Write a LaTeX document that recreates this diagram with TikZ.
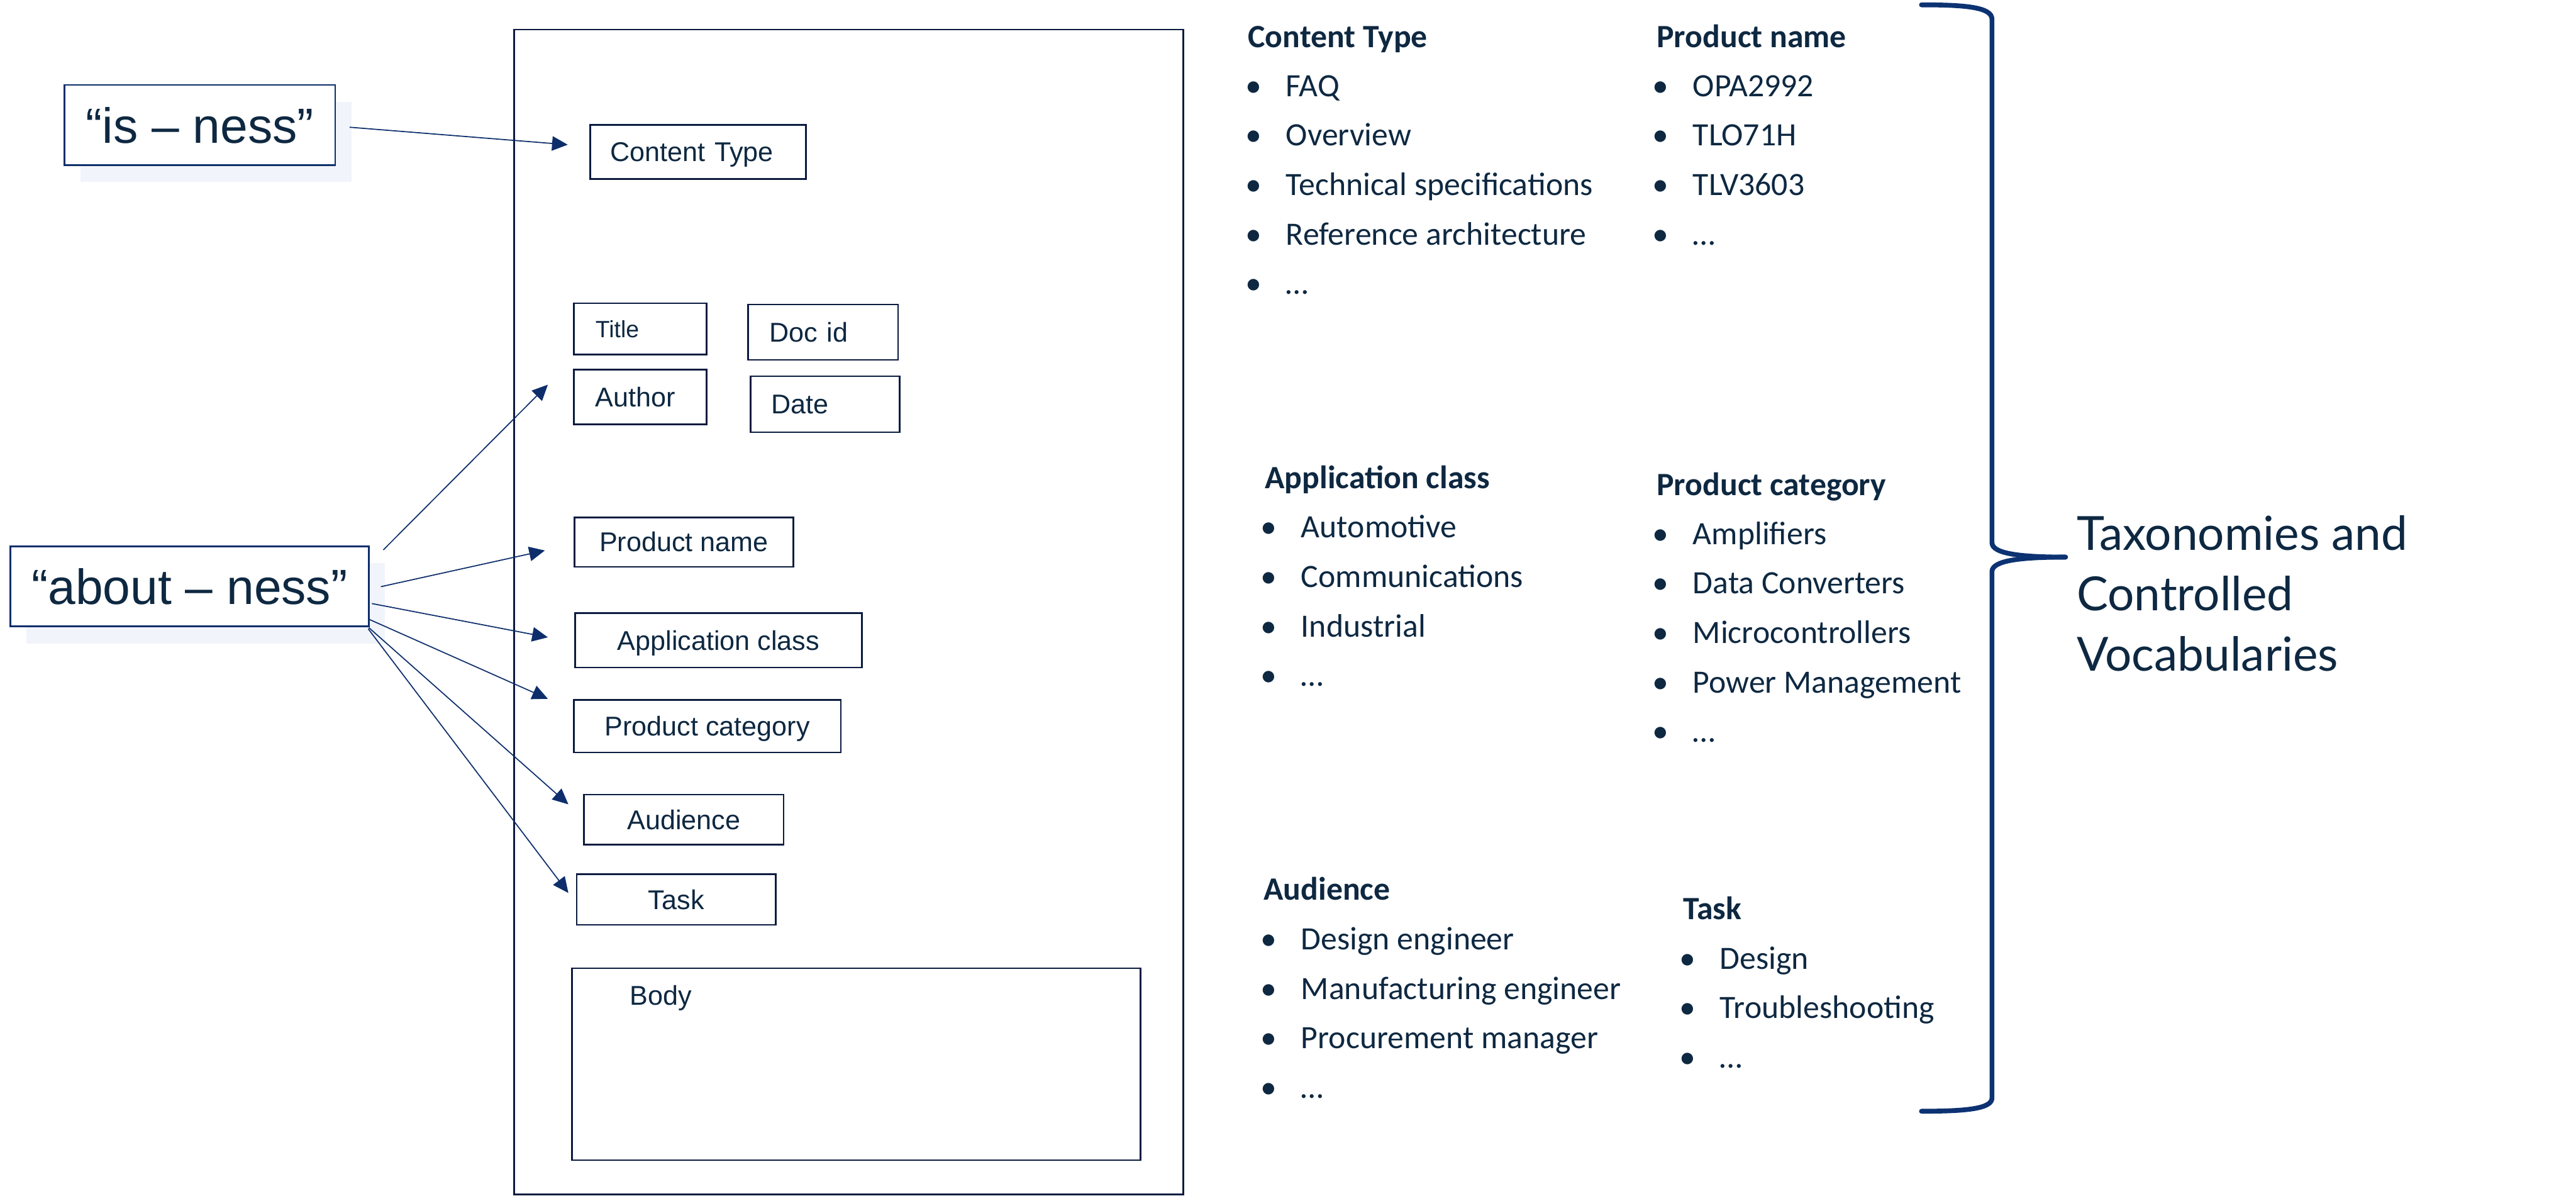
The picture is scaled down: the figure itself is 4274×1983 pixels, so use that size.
\documentclass[tikz,border=0pt]{standalone}
\usepackage{fontspec}
\setmainfont{Liberation Sans}
\newfontfamily\arialf{Liberation Sans}
\newfontfamily\calibf{Carlito}
\newfontfamily\gillf{Lato}
\usetikzlibrary{arrows.meta,shadows}
\definecolor{textc}{HTML}{0E2841}
\definecolor{navy}{HTML}{0D2E6B}
\definecolor{boxc}{HTML}{0B1B3F}
\definecolor{bracec}{HTML}{0C3272}
\definecolor{shadowc}{HTML}{F1F4FA}
\newcommand\blt[1]{\makebox[0pt]{\textbullet}\hspace{13.5pt}#1}
\begin{document}
\begin{tikzpicture}[x=0.25pt,y=-0.25pt,
  box/.style={draw=boxc, line width=0.7pt, inner sep=0pt, fill=white, text=textc,
    font=\arialf\fontsize{11.25}{13}\selectfont, text height=8pt, text depth=0pt},
  lbox/.style={box, align=left},
  ness/.style={draw=navy, line width=0.7pt, fill=white, inner sep=0pt, text=textc,
    font=\arialf\fontsize{20.5}{24}\selectfont, text height=14.7pt, text depth=0pt,
    minimum height=33.25pt,
    general shadow={shadow xshift=6.75pt, shadow yshift=-7pt, fill=shadowc, draw=none}},
  arr/.style={draw=navy, line width=0.45pt, -{Triangle[length=6.5pt,width=6pt]}},
  head/.style={anchor=base west, inner sep=0pt, text=textc, font=\calibf\bfseries\fontsize{13.5}{16}\selectfont},
  item/.style={anchor=base west, inner sep=0pt, text=textc, font=\calibf\fontsize{13.5}{16}\selectfont},
  taxo/.style={anchor=base west, inner sep=0pt, text=textc, font=\gillf\fontsize{19.5}{25}\selectfont},
  bracestyle/.style={draw=bracec, line width=2pt, line cap=round, line join=round}
]
\useasboundingbox (0,0) rectangle (4274,1983);

% document frame
\node[draw=boxc, line width=0.75pt, minimum width=277.5pt, minimum height=483pt, inner sep=0pt] (doc) at (1408,1015) {};

% is-ness / about-ness
\node[ness, minimum width=112.25pt] (is) at (331.5,207.5) {“is – ness”};
\node[ness, minimum width=148.75pt] (about) at (314.5,972.5) {“about – ness”};

% metadata boxes
\node[lbox, minimum width=89.5pt, minimum height=22.5pt, inner xsep=8.5pt, text width=72.5pt] (ctype) at (1158,252) {Content Type};
\node[lbox, minimum width=55pt, minimum height=21.25pt, inner xsep=9pt, text width=37pt,
      font=\arialf\fontsize{9.75}{12}\selectfont, text height=7pt] (title) at (1062,545.5) {Title};
\node[lbox, minimum width=62.25pt, minimum height=23pt, inner xsep=9pt, text width=44.25pt] (docid) at (1365.5,551) {Doc id};
\node[lbox, minimum width=55pt, minimum height=22.75pt, inner xsep=9pt, text width=37pt] (author) at (1062,658.5) {Author};
\node[lbox, minimum width=62pt, minimum height=23.25pt, inner xsep=8.75pt, text width=44.5pt] (date) at (1369,670.5) {Date};
\node[box, minimum width=90.75pt, minimum height=20.5pt] (pname) at (1134.5,899) {Product name};
\node[box, minimum width=119pt, minimum height=22.5pt] (appc) at (1192,1062) {Application class};
\node[box, minimum width=110.75pt, minimum height=21.75pt] (pcat) at (1173.5,1204.5) {Product category};
\node[box, minimum width=82.75pt, minimum height=20.75pt] (aud) at (1134.5,1359.5) {Audience};
\node[box, minimum width=82.5pt, minimum height=21pt] (task) at (1122,1492) {Task};
\node[box, minimum width=235.75pt, minimum height=79.5pt] (body) at (1420.5,1765) {};
\node[anchor=base west, inner sep=0pt, text=textc, font=\arialf\fontsize{11.25}{13}\selectfont] (bodyt) at (1044,1667) {Body};

% connector end points
\coordinate (s0) at (580,211);  \coordinate (t0) at (942,240);
\coordinate (s1) at (636,912);  \coordinate (t1) at (909,638);
\coordinate (s2) at (632,973);  \coordinate (t2) at (904,913);
\coordinate (s3) at (617,1001); \coordinate (t3) at (909,1057);
\coordinate (s4) at (612,1027); \coordinate (t4) at (909,1159);
\coordinate (s5) at (612,1041); \coordinate (t5) at (943,1334);
\coordinate (s6) at (611,1043); \coordinate (t6) at (943,1481);
\draw[arr] (s0) -- (t0);
\foreach \k in {1,...,6} \draw[arr] (s\k) -- (t\k);

% vocabularies
\node[head] (cth) at (2070,79) {Content Type};
\foreach \t [count=\i from 0] in {FAQ, Overview, Technical specifications, Reference architecture, …}
  \node[item] (ct\i) at (2079,{160+82*\i}) {\blt{\t}};
\node[head] (pnh) at (2748,79) {Product name};
\foreach \t [count=\i from 0] in {OPA2992, TLO71H, TLV3603, …}
  \node[item] (pn\i) at (2754,{160+82*\i}) {\blt{\t}};
\node[head] (ach) at (2098,810) {Application class};
\foreach \t [count=\i from 0] in {Automotive, Communications, Industrial, …}
  \node[item] (ac\i) at (2104,{892+82*\i}) {\blt{\t}};
\node[head] (pch) at (2748,822) {Product category};
\foreach \t [count=\i from 0] in {Amplifiers, Data Converters, Microcontrollers, Power Management, …}
  \node[item] (pc\i) at (2754,{903+82*\i}) {\blt{\t}};
\node[head] (auh) at (2096,1493) {Audience};
\foreach \t [count=\i from 0] in {Design engineer, Manufacturing engineer, Procurement manager, …}
  \node[item] (au\i) at (2104,{1575+82*\i}) {\blt{\t}};
\node[head] (tkh) at (2792,1525) {Task};
\foreach \t [count=\i from 0] in {Design, Troubleshooting, …}
  \node[item] (tk\i) at (2799,{1607+82*\i}) {\blt{\t}};

% brace
\coordinate (btip) at (3427,924);
\draw[bracestyle] (3188,8) .. controls (3262,8) and (3305,12) .. (3305,32) -- (3305,900) .. controls (3305,918) and (3350,924) .. (btip);
\draw[bracestyle] (3188,1843) .. controls (3262,1843) and (3305,1839) .. (3305,1821) -- (3305,948) .. controls (3305,930) and (3350,924) .. (btip);

\node[taxo] (tx1) at (3445,913) {Taxonomies and};
\node[taxo] (tx2) at (3445,1013) {Controlled};
\node[taxo] (tx3) at (3445,1113) {Vocabularies};
\end{tikzpicture}
\end{document}
